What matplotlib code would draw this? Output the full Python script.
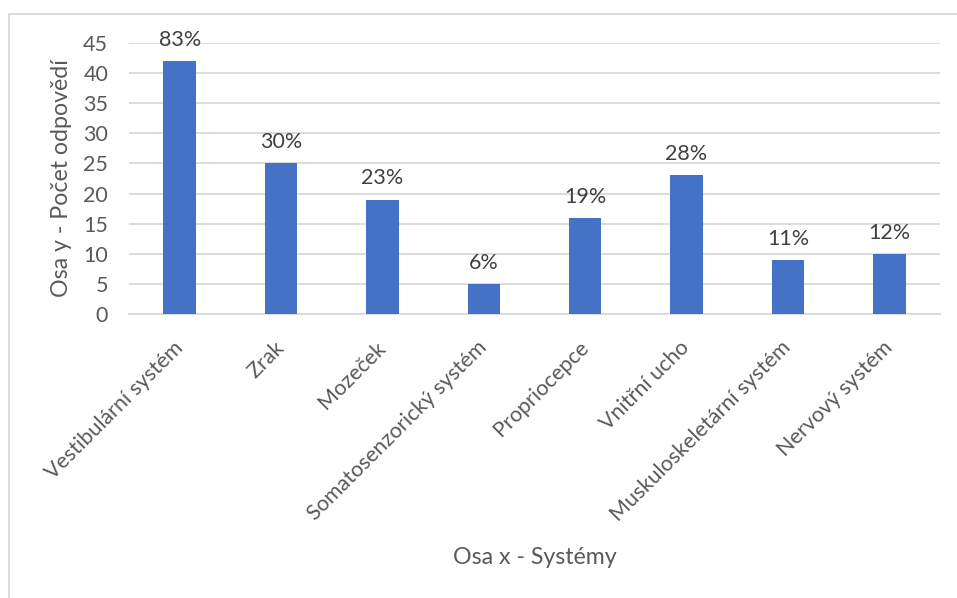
import matplotlib
matplotlib.use("Agg")
import matplotlib.pyplot as plt
from matplotlib.patches import Rectangle

plt.rcParams['font.family'] = ['Lato', 'DejaVu Sans']

systemy = ['Vestibulární systém', 'Zrak', 'Mozeček', 'Somatosenzorický systém',
           'Propriocepce', 'Vnitřní ucho', 'Muskuloskeletární systém', 'Nervový systém']
pocty = [42, 25, 19, 5, 16, 23, 9, 10]
procenta = ['83%', '30%', '23%', '6%', '19%', '28%', '11%', '12%']

fig = plt.figure(figsize=(9.57, 5.98), dpi=100)
# light frame round the chart area
fig.patches.append(Rectangle((9/957, -0.1), 1.2, 1 - 14/598 + 0.1, transform=fig.transFigure,
                             fill=False, edgecolor='#d9d9d9', linewidth=1.3))

ax = fig.add_axes([129/957, 1 - 314/598, 811/957, 271/598])
x = range(len(systemy))
bars = ax.bar(x, pocty, width=0.32, color='#4472C4', zorder=3)
for b, t in zip(bars, procenta):
    ax.annotate(t, (b.get_x() + b.get_width() / 2, b.get_height()), xytext=(0, 8),
                textcoords='offset points', ha='center', va='bottom', fontsize=15.5, color='#404040')

ax.set_ylim(0, 45)
ax.set_xlim(-0.5, len(systemy) - 0.5)
ax.set_yticks(range(0, 46, 5))
ax.yaxis.grid(True, color='#d9d9d9', linewidth=1.3, zorder=0)
for s in ['top', 'right', 'left']:
    ax.spines[s].set_visible(False)
ax.spines['bottom'].set_color('#d9d9d9')
ax.spines['bottom'].set_linewidth(1.3)
ax.tick_params(axis='both', length=0, labelsize=15.5, labelcolor='#595959')
ax.tick_params(axis='y', pad=15)
ax.tick_params(axis='x', pad=22)
ax.set_xticks(list(x))
ax.set_xticklabels(systemy, rotation=45, ha='right', va='center', rotation_mode='anchor')

ax.set_xlabel('Osa x - Systémy', fontsize=16.7, color='#595959', labelpad=12)
ax.set_ylabel('Osa y - Počet odpovědí', fontsize=16.7, color='#595959', labelpad=8)
ax.xaxis.set_label_coords(0.5, -(558 - 314) / 271, transform=ax.transAxes)
ax.xaxis.label.set_va('center')
ax.yaxis.set_label_coords((62 - 129) / 811, 0.5, transform=ax.transAxes)
ax.yaxis.label.set_va('center')

fig.savefig('out.png', dpi=100)
